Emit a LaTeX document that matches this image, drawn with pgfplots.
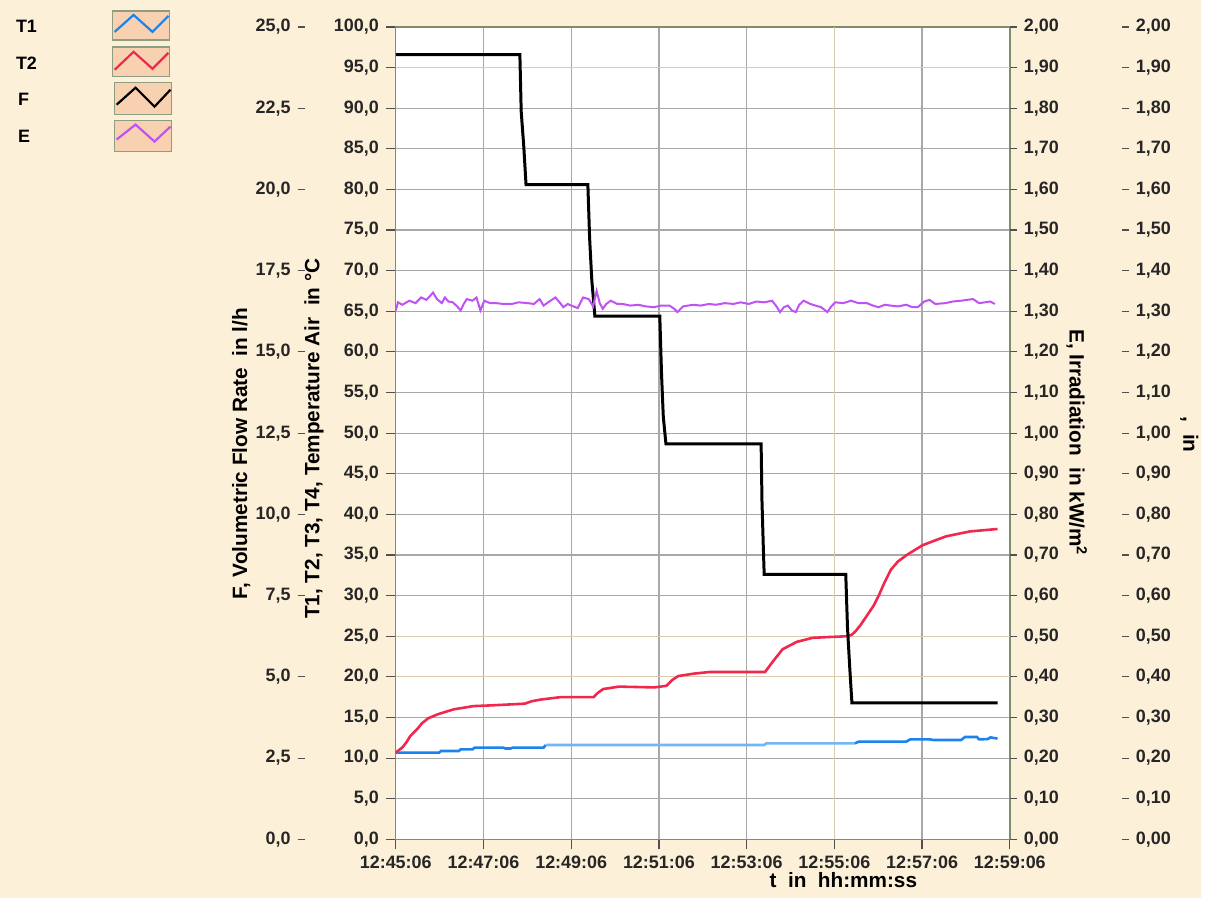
\documentclass[border=0pt]{standalone}
\usepackage{fontspec}
\setmainfont{Liberation Sans}
\usepackage{pgfplots}
\pgfplotsset{compat=1.18}

\definecolor{bgc}{HTML}{FDF0D8}
\definecolor{boxc}{HTML}{F8D2B0}
\definecolor{boxe}{HTML}{8E9C82}
\definecolor{gridc}{HTML}{A8A8A8}
\definecolor{tanc}{HTML}{DCCBAA}
\definecolor{framec}{HTML}{7E8E6A}
\definecolor{tonec}{HTML}{1E82EC}
\definecolor{tonel}{HTML}{72B6F6}
\definecolor{ttwoc}{HTML}{F0284E}
\definecolor{ec}{HTML}{BE52F2}
\definecolor{tickc}{HTML}{505050}

\newcommand{\lbl}{\bfseries\fontsize{9}{10}\selectfont}
\newcommand{\ttl}{\bfseries\fontsize{10.4}{12}\selectfont}

\pgfplotsset{
  lay/.style={scale only axis, anchor=south west, height=407.5pt,
    every tick label/.append style={font=\lbl, text=black!85},
    tick align=outside, major tick length=3.5pt,
    tick style={tickc, line width=0.6pt},
    /pgf/number format/assume math mode=true,
    /pgf/number format/use comma,
    /pgf/number format/fixed,
    /pgf/number format/fixed zerofill},
}

\begin{document}
\begin{tikzpicture}
\begin{scope}[x=0.5pt, y=0.5pt]
\fill[bgc] (0,0) rectangle (1205,901);
\end{scope}

% main axis: temperatures
\begin{axis}[lay, at={(198.5pt,29.5pt)}, width=308pt,
  xmin=0, xmax=14, ymin=0, ymax=100,
  xtick={0,2,4,6,8,10,12,14},
  xticklabels={12:45:06,12:47:06,12:49:06,12:51:06,12:53:06,12:55:06,12:57:06,12:59:06},
  ytick={0,5,...,100},
  /pgf/number format/precision=1,
  xtick pos=bottom, ytick pos=left, major tick length=5pt,
  grid=major, major grid style={gridc, line width=0.6pt},
  axis line style={framec, line width=0.7pt},
  axis background/.style={fill=white}]
\draw[tanc, line width=0.6pt] (axis cs:0,95) -- (axis cs:14,95);
\draw[tanc, line width=0.6pt] (axis cs:0,25) -- (axis cs:14,25);
\draw[tanc, line width=0.6pt] (axis cs:0,20) -- (axis cs:14,20);
\draw[tanc, line width=0.6pt] (axis cs:10,0) -- (axis cs:10,100);
% T1
\addplot[tonec, line width=1.3pt] coordinates {
(0,10.67)(0.99,10.67)(1.03,10.88)(1.44,10.88)(1.48,11.08)(1.75,11.08)(1.80,11.29)
(2.45,11.29)(2.50,11.18)(2.62,11.18)(2.66,11.29)(3.37,11.29)(3.42,11.61)};
\addplot[tonel, line width=1.3pt] coordinates {
(3.42,11.61)(8.40,11.61)(8.45,11.82)(10.47,11.82)};
\addplot[tonec, line width=1.3pt] coordinates {
(10.47,11.82)(10.56,12.03)(11.64,12.03)(11.73,12.31)(12.17,12.31)(12.26,12.23)
(12.89,12.23)(12.98,12.60)(13.25,12.60)(13.30,12.30)(13.50,12.35)(13.56,12.55)(13.72,12.40)};
% T2
\addplot[ttwoc, line width=1.3pt] coordinates {
(0,10.67)(0.05,10.9)(0.15,11.3)(0.25,12.0)(0.33,12.7)(0.42,13.2)(0.51,13.7)(0.60,14.3)
(0.74,14.9)(0.96,15.4)(1.32,16.0)(1.77,16.4)(2.22,16.5)(2.94,16.7)(3.10,17.0)(3.30,17.2)
(3.75,17.5)(4.51,17.5)(4.60,18.0)(4.73,18.5)(5.09,18.8)(5.90,18.7)(6.17,18.9)(6.30,19.6)
(6.44,20.1)(6.80,20.4)(7.16,20.6)(8.42,20.6)(8.60,21.9)(8.82,23.4)(9.14,24.3)(9.50,24.8)
(9.86,24.9)(10.31,25.0)(10.40,25.2)(10.48,25.6)(10.60,26.4)(10.75,27.6)(10.90,28.8)
(11.02,30.1)(11.15,31.7)(11.29,33.2)(11.45,34.2)(11.65,35.0)(12.01,36.2)(12.30,36.8)
(12.55,37.3)(13.09,37.9)(13.72,38.2)};
\end{axis}

% F data (l/h)
\begin{axis}[lay, at={(198.5pt,29.5pt)}, width=308pt,
  xmin=0, xmax=14, ymin=0, ymax=25, hide axis]
\addplot[black, line width=1.5pt] coordinates {
(0,24.15)(2.83,24.15)(2.86,22.4)(2.92,21.3)(2.97,20.15)
(4.38,20.15)(4.42,18.5)(4.47,17.2)(4.54,16.1)
(6.02,16.1)(6.06,14.3)(6.10,13.0)(6.16,12.17)
(8.33,12.17)(8.35,10.4)(8.38,9.0)(8.40,8.15)
(10.26,8.15)(10.30,6.5)(10.35,5.3)(10.40,4.2)
(13.72,4.2)};
\end{axis}

% E data (kW/m2), right axis
\begin{axis}[lay, at={(198.5pt,29.5pt)}, width=308pt,
  xmin=0, xmax=14, ymin=0, ymax=2,
  axis y line*=right, axis x line=none, y axis line style={draw=none},
  ytick={0,0.1,0.2,0.3,0.4,0.5,0.6,0.7,0.8,0.9,1,1.1,1.2,1.3,1.4,1.5,1.6,1.7,1.8,1.9,2},
  /pgf/number format/precision=2]
\addplot[ec, line width=1pt] coordinates {
(0,1.302)(0.05,1.322)(0.15,1.316)(0.31,1.326)(0.45,1.320)(0.58,1.334)(0.70,1.328)
(0.85,1.346)(0.94,1.330)(1.05,1.320)(1.12,1.334)(1.20,1.324)(1.30,1.322)(1.40,1.312)
(1.48,1.302)(1.55,1.318)(1.62,1.330)(1.75,1.326)(1.84,1.334)(1.93,1.302)(2.02,1.326)
(2.15,1.320)(2.29,1.320)(2.45,1.318)(2.65,1.318)(2.80,1.322)(3.01,1.320)(3.15,1.318)
(3.28,1.330)(3.37,1.314)(3.50,1.324)(3.64,1.334)(3.75,1.320)(3.82,1.310)(3.92,1.318)
(4.00,1.314)(4.15,1.308)(4.27,1.334)(4.40,1.330)(4.50,1.312)(4.58,1.350)(4.65,1.320)
(4.72,1.306)(4.80,1.318)(4.90,1.326)(5.05,1.318)(5.17,1.318)(5.35,1.314)(5.53,1.316)
(5.70,1.312)(5.89,1.310)(6.05,1.314)(6.24,1.314)(6.35,1.306)(6.42,1.298)(6.55,1.312)
(6.78,1.316)(6.95,1.314)(7.14,1.318)(7.30,1.316)(7.50,1.320)(7.70,1.318)(7.86,1.322)
(8.05,1.318)(8.22,1.324)(8.40,1.322)(8.58,1.326)(8.68,1.312)(8.76,1.298)(8.85,1.310)
(8.94,1.314)(9.03,1.302)(9.12,1.298)(9.20,1.316)(9.30,1.326)(9.45,1.318)(9.57,1.314)
(9.70,1.310)(9.84,1.298)(9.93,1.312)(10.02,1.322)(10.20,1.320)(10.38,1.326)(10.55,1.320)
(10.74,1.320)(10.88,1.314)(11.01,1.310)(11.15,1.316)(11.28,1.314)(11.45,1.312)(11.64,1.316)
(11.78,1.310)(11.90,1.310)(12.05,1.324)(12.17,1.328)(12.30,1.318)(12.53,1.320)(12.70,1.324)
(12.89,1.326)(13.02,1.328)(13.16,1.330)(13.30,1.320)(13.43,1.322)(13.55,1.324)(13.66,1.318)};
\end{axis}

% F tick scale
\begin{axis}[lay, at={(151pt,29.5pt)}, width=1pt,
  xmin=0, xmax=1, ymin=0, ymax=25,
  axis y line=left, axis x line=none, y axis line style={draw=none},
  ytick={0,2.5,5,7.5,10,12.5,15,17.5,20,22.5,25},
  /pgf/number format/precision=1]
\end{axis}

% far right scale
\begin{axis}[lay, anchor=south east, at={(564.5pt,29.5pt)}, width=1pt,
  xmin=0, xmax=1, ymin=0, ymax=2,
  axis y line=right, axis x line=none, y axis line style={draw=none},
  ytick={0,0.1,0.2,0.3,0.4,0.5,0.6,0.7,0.8,0.9,1,1.1,1.2,1.3,1.4,1.5,1.6,1.7,1.8,1.9,2},
  /pgf/number format/precision=2]
\end{axis}

\begin{scope}[x=0.5pt, y=0.5pt]
% axis titles
\node[font=\ttl, rotate=90] at (242,446) {F, Volumetric Flow Rate\ \ in l/h};
\node[font=\ttl, rotate=90] at (315,461) {T1, T2, T3, T4, Temperature Air\ \ in °C};
\node[font=\ttl, rotate=-90] at (1080,457) {E, Irradiation\ \ in kW/m\textsuperscript{2}};
\node[font=\ttl, rotate=-90] at (1193,465) {,\ \ in};
\node[font=\ttl] at (846,18) {t\ \ in\ \ hh:mm:ss};

% legend
\node[font=\lbl, anchor=west] at (9,875) {T1};
\node[font=\lbl, anchor=west] at (9,838) {T2};
\node[font=\lbl, anchor=west] at (11,801) {F};
\node[font=\lbl, anchor=west] at (11,764) {E};
\filldraw[fill=boxc, draw=boxe, line width=0.7pt] (113,861) rectangle (170,890);
\filldraw[fill=boxc, draw=boxe, line width=0.7pt] (113,824) rectangle (170,854);
\filldraw[fill=boxc, draw=boxe, line width=0.7pt] (115,786) rectangle (172,818);
\filldraw[fill=boxc, draw=boxe, line width=0.7pt] (115,749) rectangle (172,780);
\draw[tonec, line width=1.1pt] (115,869)--(134,886)--(153,869)--(169,885);
\draw[ttwoc, line width=1.1pt] (115,831)--(134,849)--(153,832)--(169,848);
\draw[black, line width=1.1pt] (117,796)--(136,813)--(155,794)--(171,811);
\draw[ec, line width=1.1pt] (117,761)--(136,776)--(155,759)--(171,774);
\end{scope}
\end{tikzpicture}
\end{document}
